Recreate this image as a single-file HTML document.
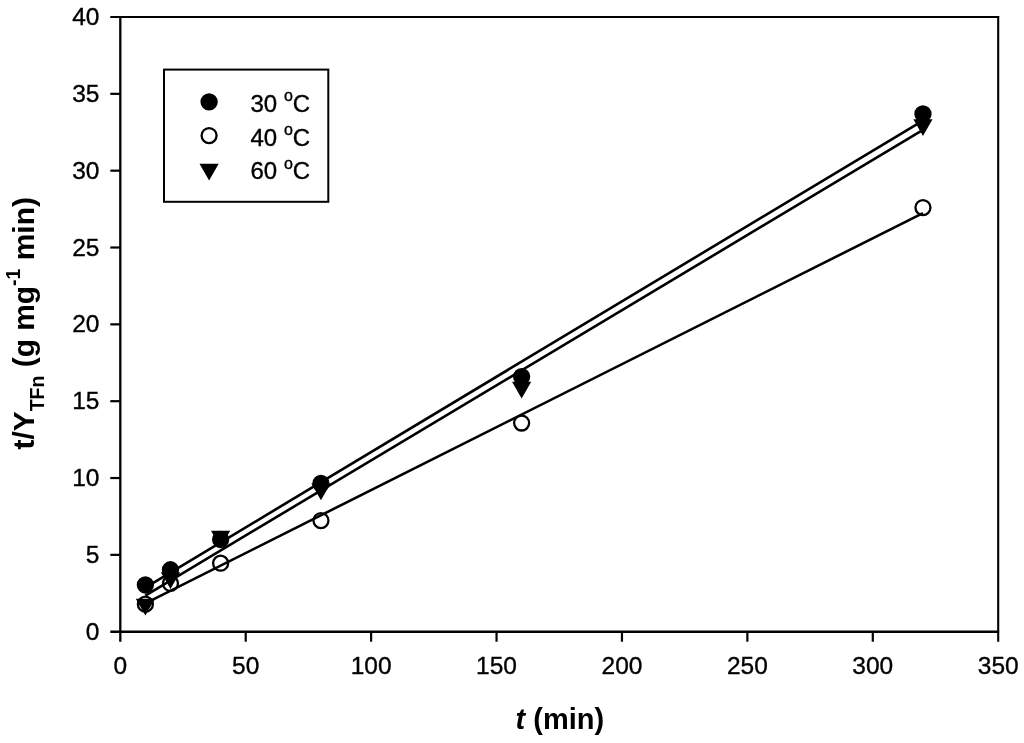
<!DOCTYPE html>
<html lang="en">
<head>
<meta charset="utf-8">
<title>t/Y TFn versus t</title>
<style>
html,body{margin:0;padding:0;background:#fff;}
body{width:1024px;height:743px;overflow:hidden;}
svg{display:block;}
text{font-family:"Liberation Sans",Arial,Helvetica,sans-serif;fill:#000;}
.tick{font-size:24.5px;}
.ttl{font-size:29px;font-weight:bold;}
.tick,.leg{stroke:#000;stroke-width:0.35px;}
</style>
</head>
<body>
<svg width="1024" height="743" viewBox="0 0 1024 743">
<rect x="0" y="0" width="1024" height="743" fill="#fff"/>

<g stroke="#000" fill="none" stroke-linecap="butt">
<line x1="120.3" y1="15.9" x2="120.3" y2="641.7" stroke-width="2.3"/>
<line x1="998.2" y1="15.9" x2="998.2" y2="641.7" stroke-width="2.1"/>
<line x1="110.3" y1="17.0" x2="999.1" y2="17.0" stroke-width="2.2"/>
<line x1="110.3" y1="631.7" x2="999.1" y2="631.7" stroke-width="2.6"/>
<line x1="110.3" y1="554.86" x2="120.3" y2="554.86" stroke-width="2.2"/>
<line x1="110.3" y1="478.03" x2="120.3" y2="478.03" stroke-width="2.2"/>
<line x1="110.3" y1="401.19" x2="120.3" y2="401.19" stroke-width="2.2"/>
<line x1="110.3" y1="324.35" x2="120.3" y2="324.35" stroke-width="2.2"/>
<line x1="110.3" y1="247.51" x2="120.3" y2="247.51" stroke-width="2.2"/>
<line x1="110.3" y1="170.68" x2="120.3" y2="170.68" stroke-width="2.2"/>
<line x1="110.3" y1="93.84" x2="120.3" y2="93.84" stroke-width="2.2"/>
<line x1="245.71" y1="631.7" x2="245.71" y2="641.7" stroke-width="2.2"/>
<line x1="371.13" y1="631.7" x2="371.13" y2="641.7" stroke-width="2.2"/>
<line x1="496.54" y1="631.7" x2="496.54" y2="641.7" stroke-width="2.2"/>
<line x1="621.96" y1="631.7" x2="621.96" y2="641.7" stroke-width="2.2"/>
<line x1="747.37" y1="631.7" x2="747.37" y2="641.7" stroke-width="2.2"/>
<line x1="872.79" y1="631.7" x2="872.79" y2="641.7" stroke-width="2.2"/>
</g>
<g class="tick">
<text x="99.4" y="639.80" text-anchor="end">0</text>
<text x="99.4" y="562.96" text-anchor="end">5</text>
<text x="99.4" y="486.13" text-anchor="end">10</text>
<text x="99.4" y="409.29" text-anchor="end">15</text>
<text x="99.4" y="332.45" text-anchor="end">20</text>
<text x="99.4" y="255.61" text-anchor="end">25</text>
<text x="99.4" y="178.78" text-anchor="end">30</text>
<text x="99.4" y="101.94" text-anchor="end">35</text>
<text x="99.4" y="25.10" text-anchor="end">40</text>
<text x="120.30" y="674.4" text-anchor="middle">0</text>
<text x="245.71" y="674.4" text-anchor="middle">50</text>
<text x="371.13" y="674.4" text-anchor="middle">100</text>
<text x="496.54" y="674.4" text-anchor="middle">150</text>
<text x="621.96" y="674.4" text-anchor="middle">200</text>
<text x="747.37" y="674.4" text-anchor="middle">250</text>
<text x="872.79" y="674.4" text-anchor="middle">300</text>
<text x="998.20" y="674.4" text-anchor="middle">350</text>
</g>
<text class="ttl" x="559.9" y="729.0" text-anchor="middle"><tspan font-style="italic">t</tspan> (min)</text>
<text class="ttl" transform="translate(34.3,449.5) rotate(-90)" x="0" y="0" style="font-size:29.9px">t/Y<tspan font-size="19.5" dy="9.7">TFn</tspan><tspan dy="-9.7"> (g mg</tspan><tspan font-size="19.5" dy="-14.5">-1</tspan><tspan dy="14.5"> min)</tspan></text>
<rect x="164" y="69.6" width="164.3" height="132.2" fill="#fff" stroke="#000" stroke-width="2"/>
<circle cx="209.10" cy="101.95" r="7.7" fill="#000" stroke="#000" stroke-width="1.9"/>
<circle cx="209.10" cy="135.60" r="7.5" fill="#fff" stroke="#000" stroke-width="2.3"/>
<path d="M200.70 164.43L217.50 164.43L209.10 179.03Z" fill="#000" stroke="#000" stroke-width="1.4" stroke-linejoin="miter"/>
<text class="leg" x="250.5" y="112.0" font-size="24">30 <tspan font-size="16" dy="-10.9">o</tspan><tspan dy="10.9">C</tspan></text>
<text class="leg" x="250.5" y="145.6" font-size="24">40 <tspan font-size="16" dy="-10.9">o</tspan><tspan dy="10.9">C</tspan></text>
<text class="leg" x="250.5" y="179.4" font-size="24">60 <tspan font-size="16" dy="-10.9">o</tspan><tspan dy="10.9">C</tspan></text>
<circle cx="145.38" cy="584.98" r="7.7" fill="#000" stroke="#000" stroke-width="1.9"/>
<circle cx="170.47" cy="569.77" r="7.7" fill="#000" stroke="#000" stroke-width="1.9"/>
<circle cx="220.63" cy="539.50" r="7.7" fill="#000" stroke="#000" stroke-width="1.9"/>
<circle cx="320.96" cy="483.40" r="7.7" fill="#000" stroke="#000" stroke-width="1.9"/>
<circle cx="521.63" cy="376.60" r="7.7" fill="#000" stroke="#000" stroke-width="1.9"/>
<circle cx="922.95" cy="113.97" r="7.7" fill="#000" stroke="#000" stroke-width="1.9"/>
<circle cx="145.38" cy="604.19" r="7.5" fill="#fff" stroke="#000" stroke-width="2.3"/>
<circle cx="170.47" cy="583.45" r="7.5" fill="#fff" stroke="#000" stroke-width="2.3"/>
<circle cx="220.63" cy="563.16" r="7.5" fill="#fff" stroke="#000" stroke-width="2.3"/>
<circle cx="320.96" cy="520.59" r="7.5" fill="#fff" stroke="#000" stroke-width="2.3"/>
<circle cx="521.63" cy="423.01" r="7.5" fill="#fff" stroke="#000" stroke-width="2.3"/>
<circle cx="922.95" cy="207.56" r="7.5" fill="#fff" stroke="#000" stroke-width="2.3"/>
<path d="M136.98 599.48L153.78 599.48L145.38 614.08Z" fill="#000" stroke="#000" stroke-width="1.4" stroke-linejoin="miter"/>
<path d="M162.07 572.89L178.87 572.89L170.47 587.49Z" fill="#000" stroke="#000" stroke-width="1.4" stroke-linejoin="miter"/>
<path d="M212.23 531.55L229.03 531.55L220.63 546.15Z" fill="#000" stroke="#000" stroke-width="1.4" stroke-linejoin="miter"/>
<path d="M312.56 484.22L329.36 484.22L320.96 498.82Z" fill="#000" stroke="#000" stroke-width="1.4" stroke-linejoin="miter"/>
<path d="M513.23 382.49L530.03 382.49L521.63 397.09Z" fill="#000" stroke="#000" stroke-width="1.4" stroke-linejoin="miter"/>
<path d="M914.55 120.01L931.35 120.01L922.95 134.61Z" fill="#000" stroke="#000" stroke-width="1.4" stroke-linejoin="miter"/>
<line x1="145.38" y1="587.65" x2="922.95" y2="120.6" stroke="#000" stroke-width="2.6"/>
<line x1="145.38" y1="595.6" x2="922.95" y2="129.9" stroke="#000" stroke-width="2.6"/>
<line x1="145.38" y1="603.4" x2="922.95" y2="213.1" stroke="#000" stroke-width="2.6"/>
</svg>
</body>
</html>
